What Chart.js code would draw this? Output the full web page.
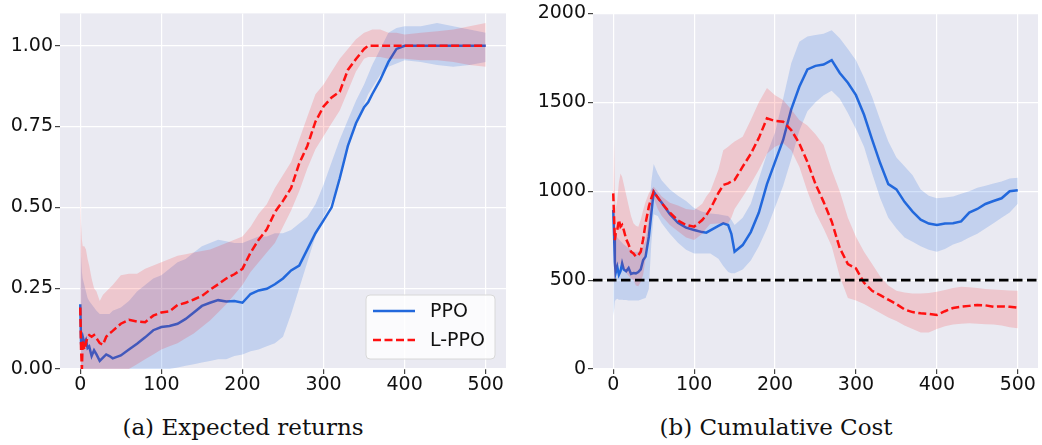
<!DOCTYPE html>
<html>
<head>
<script src="https://cdn.jsdelivr.net/npm/chart.js@4/dist/chart.umd.min.js"></script>
<style>
  body { margin: 0; background: #fff; width: 1042px; height: 445px; position: relative; overflow: hidden; }
  canvas { position: absolute; top: 0; }
  .cap { position: absolute; top: 416px; width: 400px; text-align: center;
         font-family: "DejaVu Serif"; font-size: 23px; line-height: 23px; color: #111; }
</style>
</head>
<body>
<canvas id="returns" width="520" height="400" style="left:0"></canvas>
<canvas id="cost" width="522" height="400" style="left:520px"></canvas>
<div class="cap" style="left:43px">(a) Expected returns</div>
<div class="cap" style="left:576px">(b) Cumulative Cost</div>
<script>
// ---- data ----
const seriesNames = ['PPO', 'L-PPO'];
const xTicks = [0, 100, 200, 300, 400, 500];
const retTicks = [0, 0.25, 0.5, 0.75, 1.0];
const costTicks = [0, 500, 1000, 1500, 2000];
const costLimit = 500;

// expected returns (left)
const xRet = [0,1,2,3,5,7,9,11,14,17,20,24,28,32,36,40,50,60,70,80,90,100,110,120,130,140,150,160,170,180,190,200,
  210,220,230,240,250,260,270,280,290,300,310,320,330,340,350,355,360,370,380,390,400,420,440,460,480,500];
const ppoRet = [0.20,0.08,0.09,0.10,0.08,0.09,0.065,0.07,0.04,0.058,0.045,0.025,0.035,0.045,0.04,0.033,
  0.042,0.06,0.078,0.098,0.12,0.13,0.133,0.14,0.155,0.175,0.195,0.205,0.213,0.209,0.21,0.205,
  0.232,0.243,0.248,0.262,0.28,0.305,0.32,0.37,0.42,0.46,0.50,0.59,0.69,0.76,0.81,0.825,
  0.85,0.895,0.95,0.99,1.0,1.0,1.0,1.0,1.0,1.0];
const ppoRetLo = [0,0,0,0,0,0,0,0,0,0,0,0,0,0,0,0,
  0,0,0,0,0,0,0,0.005,0.01,0.015,0.02,0.025,0.03,0.03,0.04,0.045,
  0.055,0.06,0.07,0.08,0.10,0.17,0.25,0.33,0.41,0.47,0.52,0.58,0.69,0.76,0.82,0.85,
  0.87,0.91,0.935,0.945,0.955,0.95,0.94,0.935,0.94,0.95];
const ppoRetHi = [0.5,0.35,0.3,0.28,0.26,0.24,0.22,0.21,0.2,0.19,0.18,0.17,0.17,0.17,0.17,0.18,
  0.19,0.21,0.24,0.26,0.28,0.29,0.31,0.33,0.34,0.36,0.38,0.39,0.40,0.395,0.39,0.39,
  0.40,0.41,0.41,0.42,0.42,0.43,0.45,0.47,0.51,0.57,0.64,0.71,0.77,0.83,0.88,0.91,
  0.94,0.99,1.04,1.055,1.06,1.06,1.07,1.06,1.05,1.04];
const lppoRet = [0.19,0.06,0.0,0.09,0.06,0.08,0.10,0.105,0.10,0.105,0.095,0.08,0.075,0.10,0.11,0.118,
  0.14,0.152,0.147,0.145,0.165,0.175,0.178,0.198,0.205,0.215,0.226,0.245,0.262,0.28,0.293,0.31,
  0.36,0.40,0.432,0.485,0.52,0.56,0.636,0.69,0.765,0.812,0.84,0.858,0.925,0.959,0.99,1.0,
  1.0,1.0,1.0,1.0,1.0,1.0,1.0,1.0,1.0,1.0];
const lppoRetLo = [0,0,0,0,0,0,0,0,0,0,0,0,0,0,0,0,
  0,0,0.015,0.03,0.045,0.06,0.07,0.08,0.095,0.11,0.13,0.15,0.175,0.2,0.23,0.26,
  0.3,0.33,0.36,0.39,0.44,0.49,0.55,0.62,0.68,0.72,0.76,0.8,0.86,0.92,0.96,0.965,
  0.965,0.965,0.96,0.96,0.96,0.955,0.955,0.95,0.94,0.935];
const lppoRetHi = [0.57,0.45,0.40,0.38,0.38,0.37,0.34,0.32,0.28,0.25,0.24,0.21,0.23,0.24,0.25,0.26,
  0.29,0.295,0.295,0.31,0.32,0.33,0.34,0.35,0.355,0.36,0.365,0.37,0.38,0.39,0.40,0.41,
  0.44,0.48,0.51,0.56,0.60,0.64,0.71,0.78,0.85,0.88,0.92,0.96,0.99,1.02,1.04,1.045,
  1.05,1.05,1.04,1.04,1.035,1.04,1.045,1.05,1.06,1.07];

// cumulative cost (right)
const xCost = [0,1,2,3,5,7,9,11,13,16,19,22,25,28,31,34,37,40,44,47,50,55,60,70,80,90,100,110,115,120,
  130,136,142,146,150,160,170,180,190,200,210,220,230,240,250,260,270,280,290,300,310,320,330,340,350,
  360,370,380,390,400,410,420,430,440,450,460,470,480,490,500];
const ppoCost = [894,760,600,540,575,530,550,594,560,550,568,535,540,538,545,560,613,632,744,870,
  997,965,935,870,822,795,782,770,767,780,805,819,810,760,660,
  697,770,880,1040,1165,1288,1460,1587,1685,1705,1712,1737,1665,1610,1540,1430,1290,1157,1040,1010,
  940,885,840,818,810,818,820,830,880,900,928,945,960,1000,1005];
const ppoCostLo = [300,330,380,390,395,390,390,390,388,388,385,385,385,385,385,390,395,400,450,700,
  870,860,820,760,710,670,650,650,650,650,620,580,545,538,538,
  560,610,690,790,910,1030,1180,1340,1450,1500,1540,1565,1520,1440,1350,1250,1100,960,850,790,
  740,715,690,670,660,675,700,715,740,760,790,820,850,880,930];
const ppoCostHi = [1000,900,800,760,740,730,720,710,700,690,680,670,660,660,660,670,690,720,850,1050,
  1153,1100,1060,1010,975,945,905,885,880,875,870,865,860,840,810,
  850,930,1070,1210,1330,1520,1720,1840,1870,1878,1885,1905,1860,1800,1737,1640,1530,1400,1280,1190,
  1140,1090,1010,975,960,965,970,985,1000,1020,1030,1044,1055,1072,1075];
const lppoCost = [988,857,725,760,782,838,800,810,782,730,700,660,650,632,640,660,730,820,913,960,
  997,965,932,880,835,810,800,838,865,900,990,1035,1044,1055,1063,
  1138,1210,1300,1410,1395,1391,1344,1269,1165,1040,940,830,680,590,566,485,440,415,390,365,
  335,320,313,310,304,325,343,350,355,360,358,350,352,350,345];
const lppoCostLo = [950,480,500,540,570,590,594,575,560,540,525,510,500,470,465,490,530,620,725,850,
  960,900,860,810,775,740,725,760,790,815,819,819,819,850,900,
  969,1040,1120,1210,1250,1269,1230,1138,1000,880,790,690,520,400,385,365,340,315,290,270,
  245,225,205,205,225,240,250,255,257,255,252,250,245,235,229];
const lppoCostHi = [1000,1300,1000,900,950,1050,1100,1080,1040,980,920,860,820,805,800,840,894,940,988,1010,
  1025,1000,970,935,920,900,894,930,970,1000,1120,1231,1250,1265,1280,
  1306,1400,1500,1580,1540,1513,1460,1400,1370,1320,1260,1120,1000,850,744,660,590,520,470,440,
  430,425,425,428,435,444,455,463,460,455,450,447,444,442,440];

// ---- styling ----
const xMin = -25, xMax = 525;
const blue = '#2268dc', red = '#ff1010';
const blueBand = 'rgba(40,110,225,0.2)', redBand = 'rgba(255,0,0,0.15)';
const tickFont = { family: 'DejaVu Sans', size: 19 };
const textColor = '#111';
const meanDash = [8, 3.5];

const pts = (xs, ys) => xs.map((x, i) => ({ x: x, y: ys[i] }));

function bandSets(xs, lo, hi, fill, order) {
  return [
    { data: pts(xs, lo), borderWidth: 0, pointRadius: 0, fill: false, order: order },
    { data: pts(xs, hi), borderWidth: 0, pointRadius: 0, fill: '-1', backgroundColor: fill, order: order }
  ];
}
function lineSet(xs, ys, color, dash, order) {
  return { data: pts(xs, ys), borderColor: color, borderWidth: 2.5, borderDash: dash,
           pointRadius: 0, fill: false, tension: 0, order: order };
}

const plotBg = {
  id: 'plotBg',
  beforeDraw(chart) {
    const a = chart.chartArea, ctx = chart.ctx;
    ctx.save();
    ctx.fillStyle = '#eaeaf2';
    ctx.fillRect(a.left, a.top, a.right - a.left, a.bottom - a.top);
    ctx.restore();
  }
};

const legendBox = {
  id: 'legendBox',
  afterDraw(chart) {
    const a = chart.chartArea, ctx = chart.ctx;
    const w = 129, h = 64, x0 = a.right - 11 - w, y0 = a.bottom - 10 - h;
    ctx.save();
    ctx.beginPath();
    ctx.roundRect(x0, y0, w, h, 4);
    ctx.fillStyle = 'rgba(255,255,255,0.8)';
    ctx.fill();
    ctx.strokeStyle = '#d8d8d8';
    ctx.lineWidth = 1;
    ctx.stroke();
    const items = [[seriesNames[0], blue, []], [seriesNames[1], red, meanDash]];
    items.forEach((it, i) => {
      const y = y0 + 16 + i * 29;
      ctx.beginPath();
      ctx.setLineDash(it[2]);
      ctx.strokeStyle = it[1];
      ctx.lineWidth = 2.5;
      ctx.moveTo(x0 + 7, y);
      ctx.lineTo(x0 + 49, y);
      ctx.stroke();
      ctx.setLineDash([]);
      ctx.fillStyle = textColor;
      ctx.font = '19px "DejaVu Sans"';
      ctx.textBaseline = 'middle';
      ctx.fillText(it[0], x0 + 64, y + 1);
    });
    ctx.restore();
  }
};

function makeOptions(yMax, yTicks, fmt, yWidth, padRight) {
  return {
    responsive: false,
    animation: false,
    layout: { padding: { top: 13, right: padRight, left: 0, bottom: 0 } },
    plugins: { legend: { display: false }, tooltip: { enabled: false } },
    scales: {
      x: {
        type: 'linear', min: xMin, max: xMax,
        afterBuildTicks: s => { s.ticks = xTicks.map(v => ({ value: v })); },
        afterFit: s => { s.height = 31; },
        grid: { color: '#ffffff', lineWidth: 1.2, tickColor: '#444', tickLength: 5 },
        border: { display: false },
        ticks: { font: tickFont, color: textColor, padding: 0, maxRotation: 0, autoSkip: false }
      },
      y: {
        type: 'linear', min: 0, max: yMax,
        afterBuildTicks: s => { s.ticks = yTicks.map(v => ({ value: v })); },
        afterFit: s => { s.width = yWidth; },
        grid: { color: '#ffffff', lineWidth: 1.2, tickColor: '#444', tickLength: 5 },
        border: { display: false },
        ticks: { font: tickFont, color: textColor, padding: 2, callback: fmt }
      }
    }
  };
}

new Chart('returns', {
  type: 'line',
  data: {
    datasets: [
      ...bandSets(xRet, ppoRetLo, ppoRetHi, blueBand, 6),
      lineSet(xRet, ppoRet, blue, [], 5),
      ...bandSets(xRet, lppoRetLo, lppoRetHi, redBand, 4),
      lineSet(xRet, lppoRet, red, meanDash, 3)
    ]
  },
  options: makeOptions(1.1, retTicks, v => v.toFixed(2), 60, 14),
  plugins: [plotBg, legendBox]
});

new Chart('cost', {
  type: 'line',
  data: {
    datasets: [
      ...bandSets(xCost, ppoCostLo, ppoCostHi, blueBand, 6),
      lineSet(xCost, ppoCost, blue, [], 5),
      ...bandSets(xCost, lppoCostLo, lppoCostHi, redBand, 4),
      lineSet(xCost, lppoCost, red, meanDash, 3),
      { data: [{ x: xMin, y: costLimit }, { x: xMax, y: costLimit }], borderColor: '#000',
        borderWidth: 2.6, borderDash: [9.5, 4.5], pointRadius: 0, fill: false, order: 2 }
    ]
  },
  options: makeOptions(2000, costTicks, v => String(v), 73, 4),
  plugins: [plotBg]
});
</script>
</body>
</html>
